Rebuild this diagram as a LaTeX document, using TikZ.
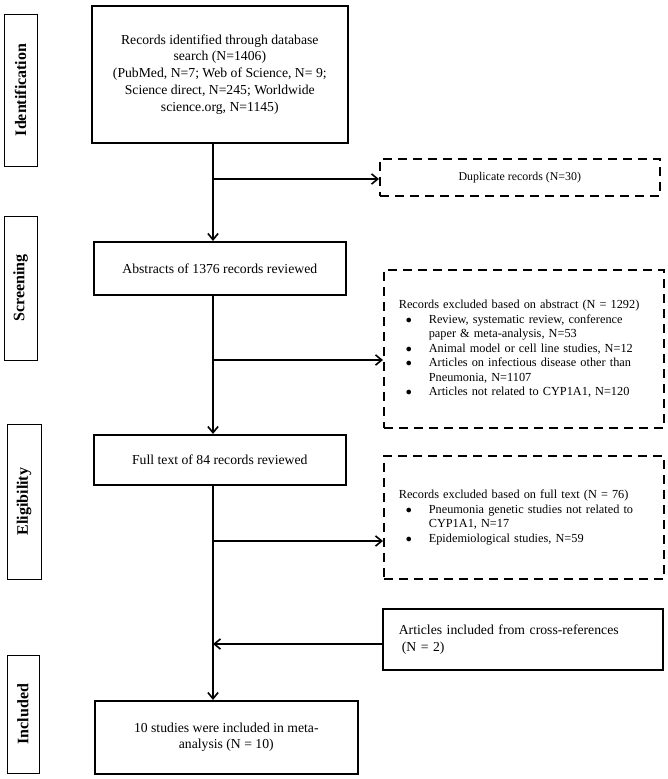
\documentclass[tikz,border=0pt]{standalone}
\usepackage{fontspec}
\setmainfont{Liberation Serif}
\usepackage{enumitem}
\usetikzlibrary{arrows.meta}

\begin{document}
\begin{tikzpicture}[x=1pt,y=-1pt,
    box/.style={draw,line width=1.6pt,anchor=north west,inner sep=0pt,align=center,
        font=\fontsize{13.7}{16.7}\selectfont},
    dbox/.style={draw,line width=1.6pt,dash pattern=on 9pt off 6pt,anchor=north west,
        inner sep=0pt,font=\fontsize{12.3}{14.5}\selectfont},
    phase/.style={draw,line width=0.9pt,rotate=90,inner sep=0pt,
        font=\fontsize{16}{18}\selectfont\bfseries},
    arr/.style={line width=1.6pt,-{Straight Barb[length=2.2mm,width=3.6mm]}}]

    \useasboundingbox (0,0) rectangle (668,779);

    % phases
    \node [phase,minimum width=152,minimum height=33] (ident) at (20.5,90) {Identification};
    \node [phase,minimum width=144,minimum height=33] (screen) at (20.5,288) {Screening};
    \node [phase,minimum width=155,minimum height=34] (elig) at (24,501.5) {Eligibility};
    \node [phase,minimum width=118,minimum height=32] (incl) at (23,714) {Included};

    % main boxes
    \node [box,minimum width=256,minimum height=137] (rec) at (91,5)
        {Records identified through database\\search (N=1406)\\(PubMed, N=7; Web of Science, N= 9;\\Science direct, N=245; Worldwide\\science.org, N=1145)};
    \node [box,minimum width=252,minimum height=53] (abs) at (93,241)
        {Abstracts of 1376 records reviewed};
    \node [box,minimum width=252,minimum height=50] (full) at (93,434)
        {Full text of 84 records reviewed};
    \node [box,minimum width=263,minimum height=73] (meta) at (94,700)
        {10 studies were included in meta-\\analysis (N = 10)};

    % side boxes
    \node [dbox,minimum width=280,minimum height=37] (dup) at (379,158)
        {\fontsize{11.9}{14}\selectfont Duplicate records (N=30)};
    \node [dbox,minimum width=280,minimum height=158,text width=250] (exabs) at (383,269)
        {Records excluded based on abstract (N = 1292)
        \begin{itemize}[nosep,leftmargin=30pt,labelsep=17pt,label={$\bullet$}]
            \item Review, systematic review, conference\newline paper \& meta-analysis, N=53
            \item Animal model or cell line studies, N=12
            \item Articles on infectious disease other than\newline Pneumonia, N=1107
            \item Articles not related to CYP1A1, N=120
        \end{itemize}};
    \node [dbox,minimum width=280,minimum height=123,text width=250] (exfull) at (383,455)
        {Records excluded based on full text (N = 76)
        \begin{itemize}[nosep,leftmargin=30pt,labelsep=17pt,label={$\bullet$}]
            \item Pneumonia genetic studies not related to\newline CYP1A1, N=17
            \item Epidemiological studies, N=59
        \end{itemize}};
    \node [box,align=left,minimum width=280,minimum height=61,text width=248] (xref) at (382,608)
        {Articles included from cross-references\\\hspace{3pt}(N = 2)};

    % spine
    \coordinate (spine) at (213,0);
    \coordinate (b1) at (213,179);
    \coordinate (b2) at (213,360);
    \coordinate (b3) at (213,541);
    \coordinate (b4) at (213,644);

    \draw [arr] (rec.south -| spine) -- (abs.north -| spine);
    \draw [arr] (abs.south -| spine) -- (full.north -| spine);
    \draw [arr] (full.south -| spine) -- (meta.north -| spine);

    \draw [arr] (b1) -- (b1 -| dup.west);
    \draw [arr] (b2) -- (b2 -| exabs.west);
    \draw [arr] (b3) -- (b3 -| exfull.west);
    \draw [arr] (b4 -| xref.west) -- (b4);
\end{tikzpicture}
\end{document}
